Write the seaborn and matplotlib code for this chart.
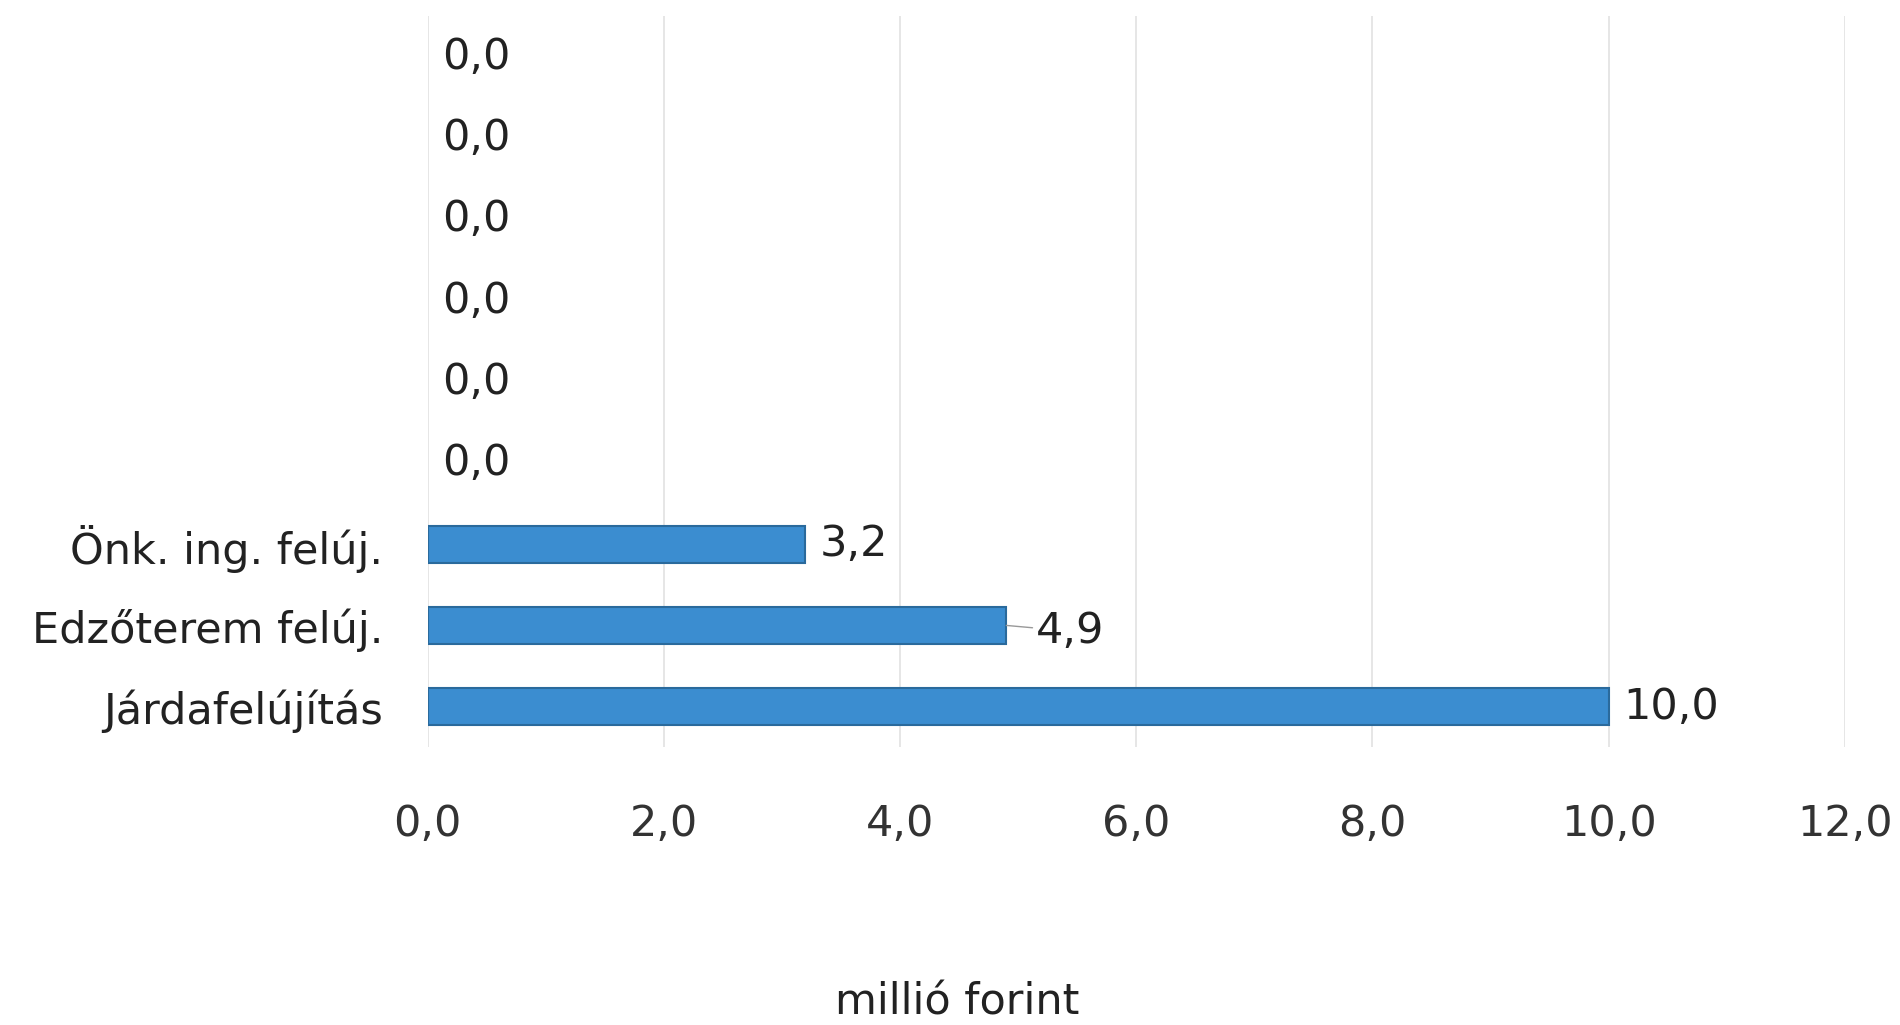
import pandas as pd
import seaborn as sns
import matplotlib
import matplotlib.pyplot as plt

matplotlib.use("Agg")

# ─── Data ───────────────────────────────────────────────────────────────────
labels = ["", "", "", "", "", "", "Önk. ing. felúj.", "Edzőterem felúj.", "Járdafelújítás"]
values = [0.0, 0.0, 0.0, 0.0, 0.0, 0.0, 3.2, 4.9, 10.0]
xticks = [0, 2, 4, 6, 8, 10, 12]
xlabel = "millió forint"

BAR_COLOR = "#3b8dd0"
EDGE_COLOR = "#2a6a9c"
TEXT_COLOR = "#222222"


def fmt(v):
    return f"{v:.1f}".replace(".", ",")


sns.set_theme(style="white")
plt.rcParams["font.family"] = ["DejaVu Sans"]

df = pd.DataFrame({"key": [f"r{i}" for i in range(len(values))],
                   "value": values})

fig = plt.figure(figsize=(19, 10.25), dpi=100)
ax = fig.add_axes([0.225, 0.271, 0.746, 0.713])

sns.barplot(data=df, x="value", y="key", orient="h", color=BAR_COLOR,
            edgecolor=EDGE_COLOR, linewidth=1.5, width=0.46, ax=ax,
            saturation=1)

# zero-length bars are not drawn at all in the original
for p in ax.patches:
    if p.get_width() == 0:
        p.set_visible(False)

ax.set_xlim(0, 12)
ax.set_xticks(xticks)
ax.set_xticklabels([fmt(t) for t in xticks], fontsize=31, color="#333333")
ax.set_yticks(range(len(labels)))
ax.set_yticklabels(labels, fontsize=31, color=TEXT_COLOR)
ax.tick_params(axis="x", length=0, pad=40)
ax.tick_params(axis="y", length=0, pad=32)
ax.set_xlabel("")
ax.set_ylabel("")

for s in ax.spines.values():
    s.set_visible(False)
ax.grid(axis="x", color="#e2e2e2", linewidth=1.2)
ax.set_axisbelow(True)

# value labels
for i, v in enumerate(values):
    if abs(v - 4.9) < 1e-9:
        ax.annotate(fmt(v), xy=(v, i), xytext=(v + 0.25, i + 0.07),
                    fontsize=31, color=TEXT_COLOR, va="center", ha="left",
                    arrowprops=dict(arrowstyle="-", color="#999999", lw=1,
                                    shrinkA=0, shrinkB=0))
    else:
        ax.text(v + 0.12, i, fmt(v), fontsize=31, color=TEXT_COLOR,
                va="center", ha="left")

fig.text(0.504, 0.022, xlabel, fontsize=31, color=TEXT_COLOR,
         ha="center", va="center")

plt.savefig("out.png", dpi=100, facecolor="white")
plt.close()
